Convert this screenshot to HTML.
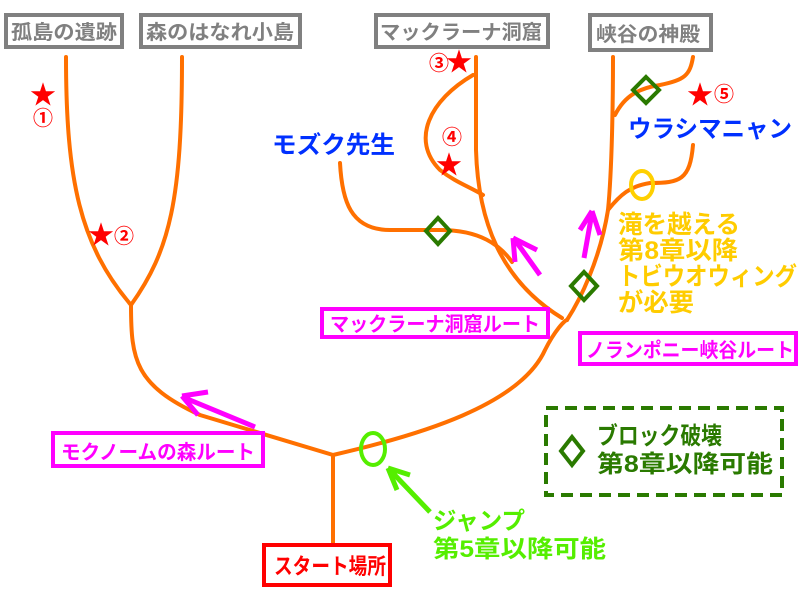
<!DOCTYPE html>
<html><head><meta charset="utf-8"><style>
body{margin:0;background:#fff}
svg text{font-family:"Liberation Sans","Noto Sans CJK JP",sans-serif;font-weight:bold}
</style></head><body>
<svg width="800" height="600" viewBox="0 0 800 600" xmlns="http://www.w3.org/2000/svg">
<rect width="800" height="600" fill="#fff"/>
<g fill="#fff" stroke="#808080" stroke-width="4">
<rect x="6" y="15" width="116" height="32"/>
<rect x="141" y="15" width="159" height="32"/>
<rect x="376" y="15" width="172" height="32"/>
<rect x="590" y="15" width="121" height="35"/>
</g>
<g fill="#808080" font-size="20" lengthAdjust="spacingAndGlyphs">
<text x="11" y="39" textLength="106" lengthAdjust="spacingAndGlyphs">孤島の遺跡</text>
<text x="146" y="39" textLength="148" lengthAdjust="spacingAndGlyphs">森のはなれ小島</text>
<text x="380" y="39" textLength="162" lengthAdjust="spacingAndGlyphs">マックラーナ洞窟</text>
<text x="596" y="41" textLength="104" lengthAdjust="spacingAndGlyphs">峡谷の神殿</text>
</g>
<g fill="none" stroke="#ff7000" stroke-width="4" stroke-linecap="round">
<path d="M66,57 C66,180 80,245 131,305"/>
<path d="M182,57 C182,200 170,250 131,305"/>
<path d="M131,305 C131,360 135,385 200,415 L333,455 L333,543"/>
<path d="M333,455 C420,435 520,405 545,350 C555,330 565,320 567,320"/>
<path d="M567,320 C580,300 600,260 608,210 C612,170 613,100 613,57"/>
<path d="M476,57 L476,150 C478,220 500,280 562,318"/>
<path d="M473,75 C430,100 410,140 440,170 C455,182 470,187 483,195"/>
<path d="M340,163 C342,200 350,230 390,230 L440,230 C480,230 500,245 512,262"/>
<path d="M615,115 C625,95 640,88 660,85 C685,80 690,75 693,57"/>
<path d="M608,210 C620,195 630,186 650,183 C680,183 690,180 693,145"/>
</g>
<g fill="#ff0000" font-size="26" font-weight="normal">
<text x="30" y="104">★</text>
<text x="88" y="244">★</text>
<text x="446" y="71">★</text>
<text x="436" y="174">★</text>
<text x="687" y="104">★</text>
</g>
<g fill="#ff0000" font-size="20">
<text x="33" y="125">①</text>
<text x="114" y="243">②</text>
<text x="429" y="70">③</text>
<text x="442" y="144">④</text>
<text x="714" y="101">⑤</text>
</g>
<g fill="#0030ff" font-size="24">
<text x="272" y="153" textLength="123" lengthAdjust="spacingAndGlyphs">モズク先生</text>
<text x="628" y="137" textLength="164" lengthAdjust="spacingAndGlyphs">ウラシマニャン</text>
</g>
<g fill="#ffcc00" font-size="25">
<text x="618" y="233" textLength="122" lengthAdjust="spacingAndGlyphs">滝を越える</text>
<text x="618" y="259" textLength="120" lengthAdjust="spacingAndGlyphs">第8章以降</text>
<text x="618" y="285" textLength="179" lengthAdjust="spacingAndGlyphs">トビウオウィング</text>
<text x="618" y="311" textLength="76" lengthAdjust="spacingAndGlyphs">が必要</text>
</g>
<ellipse cx="642" cy="185" rx="11" ry="14" fill="none" stroke="#ffd000" stroke-width="4"/>
<ellipse cx="373" cy="449" rx="12" ry="16" fill="none" stroke="#55ee00" stroke-width="4"/>
<g fill="none" stroke="#ff00ff" stroke-width="5">
<path d="M255,427 L185,398 M182,396 L208,392 M182,396 L198,415"/>
<path d="M540,275 L515,240 M513,238 L515,262 M513,238 L537,250"/>
<path d="M584,258 L592,213 M592,211 L580,230 M592,211 L600,235"/>
</g>
<g fill="none" stroke="#55ee00" stroke-width="5">
<path d="M430,512 L390,470 M388,468 L410,475 M388,468 L397,490"/>
</g>
<g fill="none" stroke="#2a7a00" stroke-width="4">
<path d="M438,218 L450,231 L438,244 L426,231 Z"/>
<path d="M646,77 L659,90 L646,103 L633,90 Z"/>
<path d="M584,272 L597,286 L584,300 L571,286 Z"/>
<path d="M572,437 L583,451 L572,465 L561,451 Z"/>
</g>
<rect x="546" y="408" width="236" height="87" fill="none" stroke="#2a7a00" stroke-width="4" stroke-dasharray="12,7"/>
<g fill="#2a7a00" font-size="24">
<text x="597" y="444" textLength="125" lengthAdjust="spacingAndGlyphs">ブロック破壊</text>
<text x="597" y="472" textLength="176" lengthAdjust="spacingAndGlyphs">第8章以降可能</text>
</g>
<g fill="#55ee00" font-size="24">
<text x="433" y="529" textLength="92" lengthAdjust="spacingAndGlyphs">ジャンプ</text>
<text x="433" y="557" textLength="173" lengthAdjust="spacingAndGlyphs">第5章以降可能</text>
</g>
<g fill="#fff" stroke="#ff00ff" stroke-width="4">
<rect x="322" y="309" width="226" height="28"/>
<rect x="580" y="333" width="216" height="31"/>
<rect x="53" y="433" width="210" height="33"/>
</g>
<g fill="#ff00ff" font-size="20">
<text x="330" y="331" textLength="210" lengthAdjust="spacingAndGlyphs">マックラーナ洞窟ルート</text>
<text x="586" y="357" textLength="208" lengthAdjust="spacingAndGlyphs">ノランポニー峡谷ルート</text>
<text x="61" y="459" textLength="194" lengthAdjust="spacingAndGlyphs">モクノームの森ルート</text>
</g>
<rect x="264" y="545" width="126" height="40" fill="#fff" stroke="#ff0000" stroke-width="4"/>
<text x="274" y="574" fill="#ff0000" font-size="22" textLength="112" lengthAdjust="spacingAndGlyphs">スタート場所</text>
</svg>
</body></html>
